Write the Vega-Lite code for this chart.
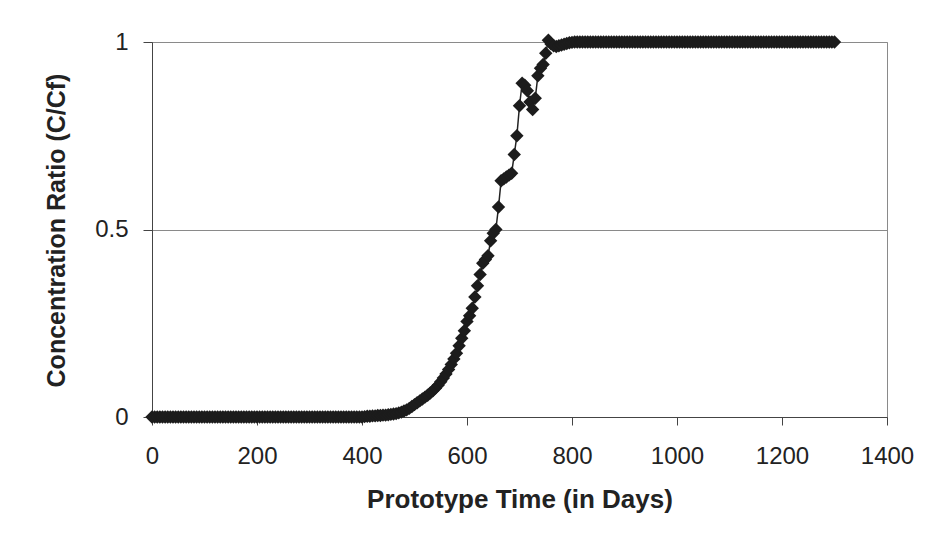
{
  "$schema": "https://vega.github.io/schema/vega-lite/v6.json",
  "autosize": {"type": "none"},
  "width": 735,
  "height": 375,
  "padding": {"left": 152, "top": 42, "right": 46, "bottom": 123},
  "background": "white",
  "config": {
    "view": {"stroke": "#8a8a8a", "strokeWidth": 1},
    "font": "Liberation Sans",
    "axis": {
      "labelFont": "Liberation Sans",
      "titleFont": "Liberation Sans",
      "labelColor": "#222",
      "titleColor": "#222",
      "domainColor": "#444",
      "tickColor": "#444",
      "gridColor": "#8a8a8a",
      "gridOpacity": 1
    }
  },
  "data": {
    "values": [
      {"t":0,"c":0},{"t":5,"c":0},{"t":10,"c":0},{"t":15,"c":0},{"t":20,"c":0},{"t":25,"c":0},{"t":30,"c":0},{"t":35,"c":0},{"t":40,"c":0},{"t":45,"c":0},
      {"t":50,"c":0},{"t":55,"c":0},{"t":60,"c":0},{"t":65,"c":0},{"t":70,"c":0},{"t":75,"c":0},{"t":80,"c":0},{"t":85,"c":0},{"t":90,"c":0},{"t":95,"c":0},
      {"t":100,"c":0},{"t":105,"c":0},{"t":110,"c":0},{"t":115,"c":0},{"t":120,"c":0},{"t":125,"c":0},{"t":130,"c":0},{"t":135,"c":0},{"t":140,"c":0},{"t":145,"c":0},
      {"t":150,"c":0},{"t":155,"c":0},{"t":160,"c":0},{"t":165,"c":0},{"t":170,"c":0},{"t":175,"c":0},{"t":180,"c":0},{"t":185,"c":0},{"t":190,"c":0},{"t":195,"c":0},
      {"t":200,"c":0},{"t":205,"c":0},{"t":210,"c":0},{"t":215,"c":0},{"t":220,"c":0},{"t":225,"c":0},{"t":230,"c":0},{"t":235,"c":0},{"t":240,"c":0},{"t":245,"c":0},
      {"t":250,"c":0},{"t":255,"c":0},{"t":260,"c":0},{"t":265,"c":0},{"t":270,"c":0},{"t":275,"c":0},{"t":280,"c":0},{"t":285,"c":0},{"t":290,"c":0},{"t":295,"c":0},
      {"t":300,"c":0},{"t":305,"c":0},{"t":310,"c":0},{"t":315,"c":0},{"t":320,"c":0},{"t":325,"c":0},{"t":330,"c":0},{"t":335,"c":0},{"t":340,"c":0},{"t":345,"c":0},
      {"t":350,"c":0},{"t":355,"c":0},{"t":360,"c":0},{"t":365,"c":0},{"t":370,"c":0},{"t":375,"c":0},{"t":380,"c":0},{"t":385,"c":0},{"t":390,"c":0},{"t":395,"c":0},
      {"t":400,"c":0},{"t":405,"c":0.001},{"t":410,"c":0.002},{"t":415,"c":0.002},{"t":420,"c":0.003},{"t":425,"c":0.003},{"t":430,"c":0.004},{"t":435,"c":0.004},{"t":440,"c":0.005},{"t":445,"c":0.005},
      {"t":450,"c":0.006},{"t":455,"c":0.007},{"t":460,"c":0.008},{"t":465,"c":0.009},{"t":470,"c":0.011},{"t":475,"c":0.013},{"t":480,"c":0.016},{"t":485,"c":0.019},{"t":490,"c":0.023},{"t":495,"c":0.028},
      {"t":500,"c":0.033},{"t":505,"c":0.038},{"t":510,"c":0.043},{"t":515,"c":0.048},{"t":520,"c":0.053},{"t":525,"c":0.058},{"t":530,"c":0.064},{"t":535,"c":0.07},{"t":540,"c":0.077},{"t":545,"c":0.085},
      {"t":550,"c":0.094},{"t":555,"c":0.104},{"t":560,"c":0.115},{"t":565,"c":0.127},{"t":570,"c":0.14},{"t":575,"c":0.155},{"t":580,"c":0.17},{"t":585,"c":0.19},{"t":590,"c":0.21},{"t":595,"c":0.23},
      {"t":600,"c":0.255},{"t":605,"c":0.27},{"t":610,"c":0.29},{"t":615,"c":0.32},{"t":620,"c":0.35},{"t":625,"c":0.38},{"t":630,"c":0.41},{"t":635,"c":0.42},{"t":640,"c":0.43},{"t":645,"c":0.47},
      {"t":650,"c":0.49},{"t":655,"c":0.5},{"t":660,"c":0.56},{"t":665,"c":0.63},{"t":670,"c":0.635},{"t":675,"c":0.64},{"t":680,"c":0.645},{"t":685,"c":0.65},{"t":690,"c":0.7},{"t":695,"c":0.75},
      {"t":700,"c":0.83},{"t":705,"c":0.89},{"t":710,"c":0.885},{"t":715,"c":0.87},{"t":720,"c":0.84},{"t":725,"c":0.82},{"t":730,"c":0.85},{"t":735,"c":0.91},{"t":740,"c":0.93},{"t":745,"c":0.94},
      {"t":750,"c":0.97},{"t":755,"c":1.005},{"t":760,"c":0.995},{"t":765,"c":0.99},{"t":770,"c":0.988},{"t":775,"c":0.99},{"t":780,"c":0.992},{"t":785,"c":0.994},{"t":790,"c":0.996},{"t":795,"c":0.998},
      {"t":800,"c":0.999},{"t":805,"c":1},{"t":810,"c":1},{"t":815,"c":1},{"t":820,"c":1},{"t":825,"c":1},{"t":830,"c":1},{"t":835,"c":1},{"t":840,"c":1},{"t":845,"c":1},
      {"t":850,"c":1},{"t":855,"c":1},{"t":860,"c":1},{"t":865,"c":1},{"t":870,"c":1},{"t":875,"c":1},{"t":880,"c":1},{"t":885,"c":1},{"t":890,"c":1},{"t":895,"c":1},
      {"t":900,"c":1},{"t":905,"c":1},{"t":910,"c":1},{"t":915,"c":1},{"t":920,"c":1},{"t":925,"c":1},{"t":930,"c":1},{"t":935,"c":1},{"t":940,"c":1},{"t":945,"c":1},
      {"t":950,"c":1},{"t":955,"c":1},{"t":960,"c":1},{"t":965,"c":1},{"t":970,"c":1},{"t":975,"c":1},{"t":980,"c":1},{"t":985,"c":1},{"t":990,"c":1},{"t":995,"c":1},
      {"t":1000,"c":1},{"t":1005,"c":1},{"t":1010,"c":1},{"t":1015,"c":1},{"t":1020,"c":1},{"t":1025,"c":1},{"t":1030,"c":1},{"t":1035,"c":1},{"t":1040,"c":1},{"t":1045,"c":1},
      {"t":1050,"c":1},{"t":1055,"c":1},{"t":1060,"c":1},{"t":1065,"c":1},{"t":1070,"c":1},{"t":1075,"c":1},{"t":1080,"c":1},{"t":1085,"c":1},{"t":1090,"c":1},{"t":1095,"c":1},
      {"t":1100,"c":1},{"t":1105,"c":1},{"t":1110,"c":1},{"t":1115,"c":1},{"t":1120,"c":1},{"t":1125,"c":1},{"t":1130,"c":1},{"t":1135,"c":1},{"t":1140,"c":1},{"t":1145,"c":1},
      {"t":1150,"c":1},{"t":1155,"c":1},{"t":1160,"c":1},{"t":1165,"c":1},{"t":1170,"c":1},{"t":1175,"c":1},{"t":1180,"c":1},{"t":1185,"c":1},{"t":1190,"c":1},{"t":1195,"c":1},
      {"t":1200,"c":1},{"t":1205,"c":1},{"t":1210,"c":1},{"t":1215,"c":1},{"t":1220,"c":1},{"t":1225,"c":1},{"t":1230,"c":1},{"t":1235,"c":1},{"t":1240,"c":1},{"t":1245,"c":1},
      {"t":1250,"c":1},{"t":1255,"c":1},{"t":1260,"c":1},{"t":1265,"c":1},{"t":1270,"c":1},{"t":1275,"c":1},{"t":1280,"c":1},{"t":1285,"c":1},{"t":1290,"c":1},{"t":1295,"c":1},
      {"t":1300,"c":1}
    ]
  },
  "mark": {
    "type": "line",
    "color": "#222",
    "strokeWidth": 1.5,
    "clip": false,
    "point": {"shape": "diamond", "size": 180, "filled": true, "color": "#1c1c1c", "opacity": 1}
  },
  "encoding": {
    "x": {
      "field": "t",
      "type": "quantitative",
      "scale": {"domain": [0, 1400], "nice": false, "zero": true},
      "axis": {
        "title": "Prototype Time (in Days)",
        "values": [0, 200, 400, 600, 800, 1000, 1200, 1400],
        "format": "d",
        "grid": false,
        "tickSize": 8,
        "labelFontSize": 24,
        "labelBaseline": "alphabetic",
        "labelPadding": 38,
        "labelFlush": false,
        "labelOverlap": false,
        "titleFontSize": 26,
        "titleFontWeight": "bold",
        "titleBaseline": "alphabetic",
        "titleY": 90,
        "titleX": 367.5,
        "titleAlign": "center"
      }
    },
    "y": {
      "field": "c",
      "type": "quantitative",
      "scale": {"domain": [0, 1], "nice": false},
      "axis": {
        "title": "Concentration Ratio (C/Cf)",
        "values": [0, 0.5, 1],
        "labelExpr": "datum.value + ''",
        "grid": true,
        "tickSize": 9,
        "labelFontSize": 24,
        "labelPadding": 15,
        "labelFlush": false,
        "labelOverlap": false,
        "titleFontSize": 25,
        "titleFontWeight": "bold",
        "titleAngle": -90,
        "titleBaseline": "alphabetic",
        "titleAlign": "center",
        "titleX": -88,
        "titleY": 188
      }
    }
  }
}
